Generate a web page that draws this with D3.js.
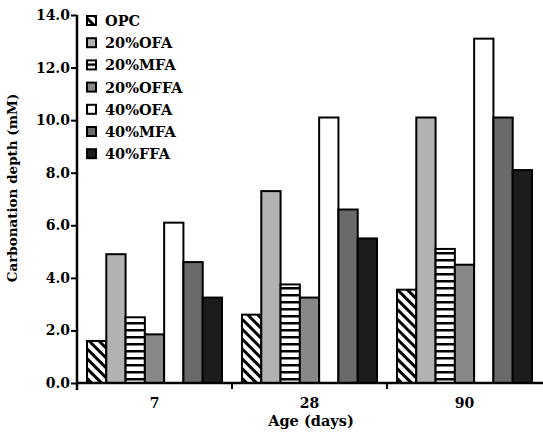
<!DOCTYPE html>
<html>
<head>
<meta charset="utf-8">
<script src="https://cdn.jsdelivr.net/npm/d3@7"></script>
<style>
  body { margin: 0; background: #fff; }
  svg text { font-family: "DejaVu Serif", serif; font-weight: bold; }
</style>
</head>
<body>
<svg id="chart" width="543" height="438"></svg>
<script>
const ages = ["7", "28", "90"];
const mixes = ["OPC", "20%OFA", "20%MFA", "20%OFFA", "40%OFA", "40%MFA", "40%FFA"];
const opc = [1.6, 2.6, 3.55];
const ofa20 = [4.9, 7.3, 10.1];
const mfa20 = [2.5, 3.75, 5.1];
const offa20 = [1.85, 3.25, 4.5];
const ofa40 = [6.1, 10.1, 13.1];
const mfa40 = [4.6, 6.6, 10.1];
const ffa40 = [3.25, 5.5, 8.1];
const yTicks = [0, 2, 4, 6, 8, 10, 12, 14];

const series = [opc, ofa20, mfa20, offa20, ofa40, mfa40, ffa40];
const fills = ["url(#diag)", "#b2b2b2", "url(#horiz)", "#888888", "#ffffff", "#6a6a6a", "#1c1c1c"];

const width = 543;
const height = 438;
const margin = { top: 15, right: 1, bottom: 55, left: 77 };

const svg = d3.select("#chart");

// patterns
const defs = svg.append("defs");
const diag = defs.append("pattern")
  .attr("id", "diag")
  .attr("patternUnits", "userSpaceOnUse")
  .attr("width", 7)
  .attr("height", 7)
  .attr("patternTransform", "rotate(45)");
diag.append("rect").attr("width", 7).attr("height", 7).attr("fill", "#fff");
diag.append("rect").attr("x", 0).attr("y", 0).attr("width", 7).attr("height", 3).attr("fill", "#000");

const horiz = defs.append("pattern")
  .attr("id", "horiz")
  .attr("patternUnits", "userSpaceOnUse")
  .attr("width", 7)
  .attr("height", 7);
horiz.append("rect").attr("width", 7).attr("height", 7).attr("fill", "#fff");
horiz.append("rect").attr("y", 0).attr("width", 7).attr("height", 2.5).attr("fill", "#000");

const x0 = d3.scaleBand()
  .domain(ages)
  .range([margin.left, width - margin.right])
  .paddingInner(0)
  .paddingOuter(0);

const x1 = d3.scaleBand()
  .domain(mixes)
  .range([10, x0.bandwidth() - 10])
  .padding(0);

const y = d3.scaleLinear()
  .domain([0, 14])
  .range([height - margin.bottom, margin.top]);

// bars
const groups = svg.selectAll("g.age")
  .data(ages)
  .enter()
  .append("g")
  .attr("class", "age")
  .attr("transform", (d) => `translate(${x0(d)},0)`);

groups.selectAll("rect")
  .data((d, i) => mixes.map((m, j) => ({ mix: m, value: series[j][i], fill: fills[j] })))
  .enter()
  .append("rect")
  .attr("x", (d) => x1(d.mix))
  .attr("y", (d) => y(d.value))
  .attr("width", x1.bandwidth())
  .attr("height", (d) => y(0) - y(d.value))
  .attr("fill", (d) => d.fill)
  .attr("stroke", "#000")
  .attr("stroke-width", 2);

// y axis
const yAxis = d3.axisLeft(y)
  .tickValues(yTicks)
  .tickFormat(d3.format(".1f"))
  .tickSize(6)
  .tickPadding(1);

const gy = svg.append("g")
  .attr("transform", `translate(${margin.left},0)`)
  .call(yAxis);
gy.select(".domain")
  .attr("d", `M0,${margin.top}V${y(0) + 7}`)
  .attr("stroke-width", 2.5);
gy.selectAll(".tick line").attr("stroke-width", 2);
gy.selectAll("text")
  .style("font-family", "DejaVu Serif")
  .style("font-size", "14px")
  .style("font-weight", "bold")
  .attr("fill", "#000");

// x axis
const gx = svg.append("g")
  .attr("transform", `translate(0,${y(0)})`);
gx.append("line")
  .attr("x1", margin.left)
  .attr("x2", width)
  .attr("stroke", "#000")
  .attr("stroke-width", 2.5);
gx.selectAll("line.sep")
  .data(ages.slice(1))
  .enter()
  .append("line")
  .attr("class", "sep")
  .attr("x1", (d) => x0(d))
  .attr("x2", (d) => x0(d))
  .attr("y1", 0)
  .attr("y2", 6)
  .attr("stroke", "#000")
  .attr("stroke-width", 2);
gx.selectAll("text")
  .data(ages)
  .enter()
  .append("text")
  .attr("x", (d) => x0(d) + x0.bandwidth() / 2)
  .attr("y", 25)
  .attr("text-anchor", "middle")
  .style("font-size", "14px")
  .text((d) => d);

// axis titles
svg.append("text")
  .attr("x", 311)
  .attr("y", 426)
  .attr("text-anchor", "middle")
  .style("font-size", "14.5px")
  .text("Age (days)");

svg.append("text")
  .attr("transform", `translate(17,188) rotate(-90)`)
  .attr("text-anchor", "middle")
  .style("font-size", "13.5px")
  .text("Carbonation depth (mM)");

// legend
const legend = svg.append("g").attr("transform", "translate(87,26)");
const items = legend.selectAll("g")
  .data(mixes)
  .enter()
  .append("g")
  .attr("transform", (d, i) => `translate(0,${i * 22.2})`);
items.append("rect")
  .attr("x", 0)
  .attr("y", -10)
  .attr("width", 9)
  .attr("height", 9)
  .attr("fill", (d, i) => fills[i])
  .attr("stroke", "#000")
  .attr("stroke-width", 2);
items.append("text")
  .attr("x", 18)
  .attr("y", 0)
  .style("font-size", "14.5px")
  .text((d) => d);
</script>
</body>
</html>
